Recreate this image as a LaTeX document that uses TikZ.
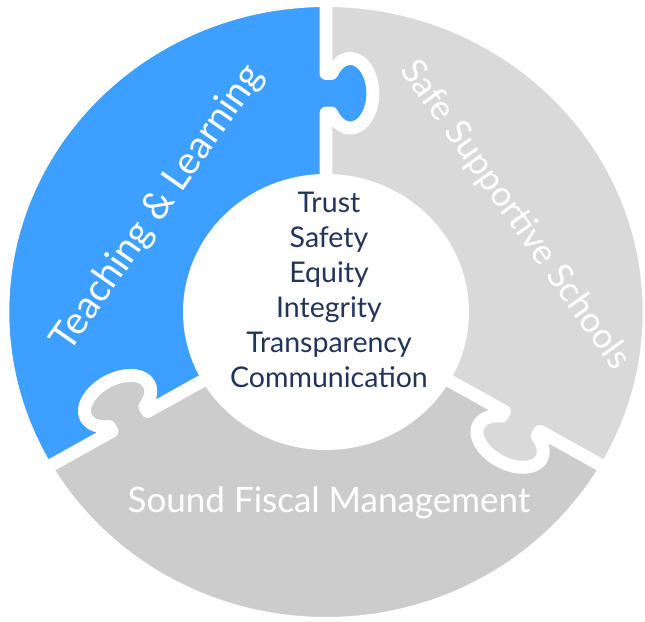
\documentclass[tikz,border=0pt]{standalone}
\usepackage{fontspec}
\setmainfont{Lato}
\definecolor{tlblue}{HTML}{3D9FFF}
\definecolor{ssgray}{HTML}{D9D9D9}
\definecolor{sfgray}{HTML}{CCCCCC}
\definecolor{navy}{HTML}{22345A}
\tikzset{
  gapline/.style={draw=white, line width=12.9pt, line join=round, line cap=butt},
  valuetext/.style={text=navy, font=\fontsize{28.5}{28.5}\selectfont, anchor=base, inner sep=0pt},
  piecetext/.style={text=white, inner sep=0pt}
}
\begin{document}
\begin{tikzpicture}[x=1pt, y=1pt]
\useasboundingbox (0,0) rectangle (645,621);
\begin{scope}[shift={(326,309)}, xscale=1.036]
  % pieces
  \fill[tlblue] (0,0) -- (90:320) arc[start angle=90, end angle=210, radius=320] -- cycle;
  \fill[sfgray] (0,0) -- (210:320) arc[start angle=210, end angle=330, radius=320] -- cycle;
  \fill[ssgray] (0,0) -- (330:320) arc[start angle=330, end angle=450, radius=320] -- cycle;
  % knobs
  \foreach \r/\c in {0/tlblue, 120/sfgray, 240/ssgray} {
    \begin{scope}[rotate=\r]
      \fill[\c] (0,198.9) -- (5.5,198.9) arc[start angle=214.7, end angle=505.3, x radius=21.8, y radius=34.8] -- (0,238.5) -- cycle;
    \end{scope}
  }
  % gaps
  \foreach \r in {0,120,240} {
    \begin{scope}[rotate=\r]
      \draw[gapline] (0,0) -- (0,198.9) -- (5.5,198.9) arc[start angle=214.7, end angle=505.3, x radius=21.8, y radius=34.8] -- (0,238.5) -- (0,330);
    \end{scope}
  }
  % outer trim and inner disc
  \draw[white, line width=40pt] (0,0) circle[radius=325];
  \fill[white] (0,0) circle[radius=138];
\end{scope}
\node[valuetext] (v1) at (329,408) {Trust};
\node[valuetext] (v2) at (329,373) {Safety};
\node[valuetext] (v3) at (329,338) {Equity};
\node[valuetext] (v4) at (329,303) {Integrity};
\node[valuetext] (v5) at (329,268) {Transparency};
\node[valuetext] (v6) at (329,233) {Communication};
\node[piecetext, font=\fontsize{38.5}{38.5}\selectfont, rotate=55] (tl) at (158,413) {Teaching \& Learning};
\node[piecetext, font=\fontsize{35}{35}\selectfont, rotate=-54.5] (ss) at (515,406) {Safe Supportive Schools};
\node[piecetext, font=\fontsize{35}{35}\selectfont, anchor=base] (sf) at (329,108.4) {Sound Fiscal Management};
\end{tikzpicture}
\end{document}
